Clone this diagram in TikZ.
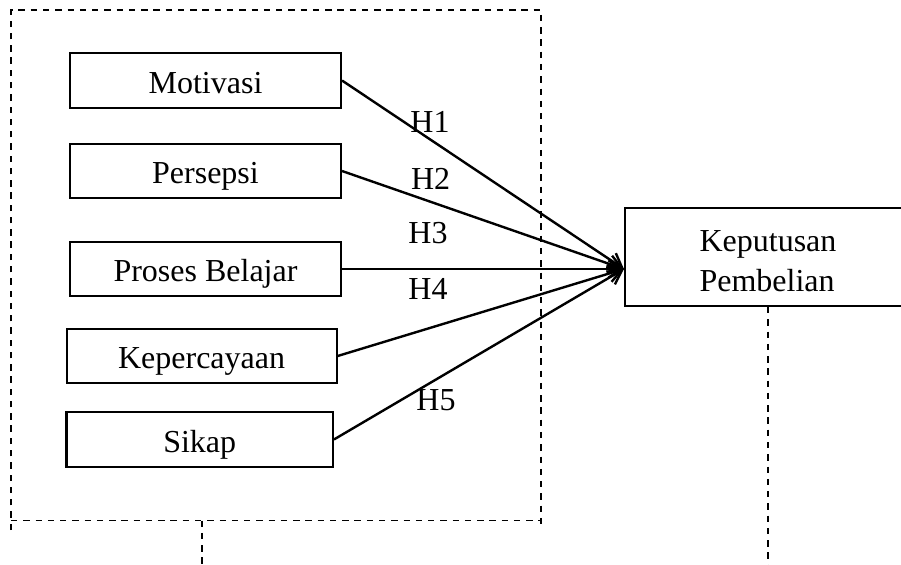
\documentclass[tikz,border=0pt]{standalone}
\usepackage{fontspec}
\setmainfont{Liberation Serif}
\usepackage{tikz}
\usetikzlibrary{arrows.meta}

\begin{document}
\begin{tikzpicture}
[every node/.style={inner sep=0pt, font=\fontsize{12}{15}\selectfont},
 varbox/.style={rectangle, minimum height=20.4pt, text height=10.6pt, text depth=1.2pt, fill=white, line width=0.8pt, draw=black},
 hyp/.style={line width=0.9, -{Straight Barb[length=5pt, width=6.5pt]}, color=black},
 frame/.style={line width=0.6, dashed, dash pattern=on 2.4pt off 2.2pt, color=black}]
\clip (0pt, 0pt) rectangle (337.875pt, -211.875pt);
\node (mot) [varbox, minimum width=101.6pt] at (77.06pt, -30.19pt) {Motivasi};
\node (per) [varbox, minimum width=101.6pt] at (77.06pt, -64.13pt) {Persepsi};
\node (pb) [varbox, minimum width=101.6pt] at (77.06pt, -100.88pt) {Proses Belajar};
\node (kep) [varbox, minimum width=101.25pt] at (75.6pt, -133.5pt) {Kepercayaan};
\node (sik) [varbox, minimum width=99.9pt] at (74.9pt, -164.8pt) {Sikap};
\node (kp) [rectangle, fill=white, line width=0.8pt, draw=black, minimum width=107.25pt, minimum height=36.75pt, align=left] at (288.0pt, -96.38pt) {\rule{0pt}{11pt}Keputusan\\Pembelian};
\coordinate (tip) at (kp.west |- pb.east);
% dashed frame round the five variables
\draw [frame] (4.13pt, -198.75pt) -- (4.13pt, -3.75pt) -- (202.88pt, -3.75pt) -- (202.88pt, -198.75pt);
\draw [frame] (4.13pt, -195.26pt) -- (202.88pt, -195.26pt);
\coordinate (fb) at (75.75pt, -195.26pt);
\coordinate (fe) at (75.75pt, -215pt);
\coordinate (ke) at (kp.south |- fe);
\draw [frame] (fb) -- (fe);
\draw [frame] (kp.south) -- (ke);
\draw [hyp] (mot.east) to (tip);
\draw [hyp] (per.east) to (tip);
\draw [hyp] (pb.east) to (tip);
\draw [hyp] (kep.east) to (tip);
\draw [hyp] (sik.east) to (tip);
\node (h1) at (161.25pt, -45.75pt) {H1};
\node (h2) at (161.5pt, -67.0pt) {H2};
\node (h3) at (160.5pt, -87.4pt) {H3};
\node (h4) at (160.5pt, -108.4pt) {H4};
\node (h5) at (163.5pt, -150.0pt) {H5};
\end{tikzpicture}
\end{document}
